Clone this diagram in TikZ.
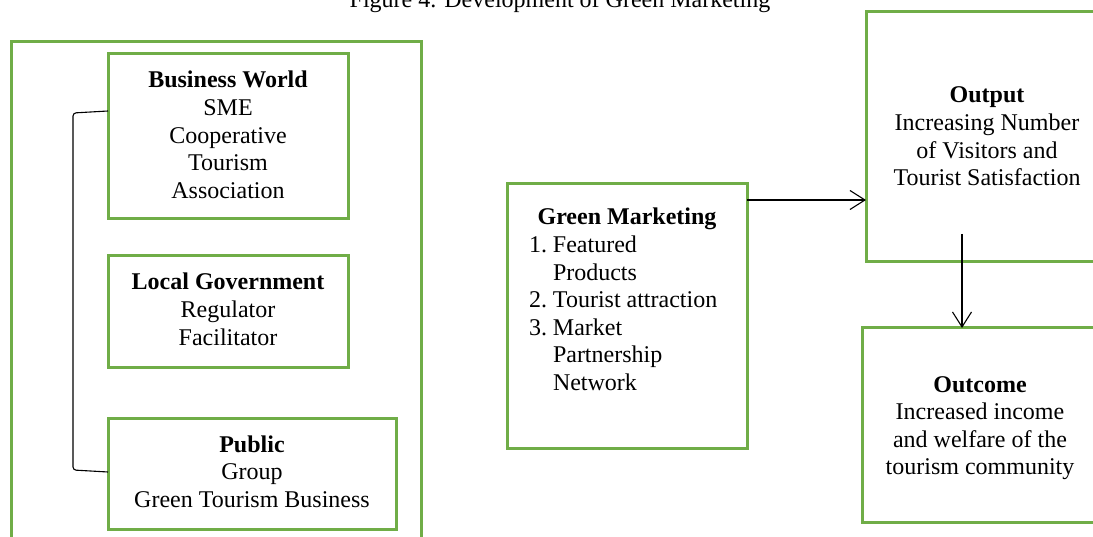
\documentclass[tikz,border=0pt]{standalone}
\usepackage{fontspec}
\setmainfont{Liberation Serif}
\usetikzlibrary{arrows.meta,calc}
\definecolor{boxgreen}{RGB}{112,173,71}
% first baseline of a box text, measured from the top edge of the box
\newcommand{\firstbase}[1]{\vspace*{\dimexpr #1-\ht\strutbox\relax}}
% fixed-size box contents: width, height, first baseline, text
\newcommand{\boxcontent}[4]{\parbox[c][#2][t]{#1}{\centering\firstbase{#3}\strut #4}}
\begin{document}
\begin{tikzpicture}[x=1pt,y=-1pt,
  every node/.style={font=\fontsize{24}{27.6}\selectfont},
  gbox/.style={draw=boxgreen, line width=3pt, inner sep=0pt, outer sep=0pt, anchor=north west},
  arr/.style={draw=black, line width=1.1pt, -{Straight Barb[length=15pt,width=19pt,line width=1.1pt]}},
  bracket/.style={draw=black, line width=1.1pt, rounded corners=3pt}]
\useasboundingbox (0,0) rectangle (1093,537);
\clip (0,0) rectangle (1093,537);

% caption
\node[anchor=base, inner sep=0pt] (title) at (560,8) {Figure 4. Development of Green Marketing};

% stakeholder group
\node[gbox] (outer) at (11,42) {\parbox[c][530pt][t]{410pt}{\mbox{}}};
\node[gbox] (bw) at (108,54) {\boxcontent{240pt}{165pt}{34pt}{\textbf{Business World}\\ SME\\ Cooperative\\ Tourism\\ Association}};
\node[gbox] (lg) at (108,256) {\boxcontent{240pt}{112pt}{34pt}{\textbf{Local Government}\\ Regulator\\ Facilitator}};
\node[gbox] (pub) at (108,418) {\boxcontent{288pt}{111pt}{34pt}{\textbf{Public}\\ Group\\ Green Tourism Business}};
\draw[bracket] (bw.west |- 0,111) -- (73,113) -- (73,470) -- (pub.west |- 0,472);

% green marketing
\node[gbox] (gm) at (507,184) {\parbox[c][264pt][t]{240pt}{\firstbase{41pt}%
  \makebox[240pt]{\strut\textbf{Green Marketing}}\\
  \hspace*{22pt}\makebox[24pt][l]{1.}Featured\\
  \hspace*{46pt}Products\\
  \hspace*{22pt}\makebox[24pt][l]{2.}Tourist attraction\\
  \hspace*{22pt}\makebox[24pt][l]{3.}Market\\
  \hspace*{46pt}Partnership\\
  \hspace*{46pt}Network}};

% results
\node[gbox] (out) at (866,12) {\boxcontent{242pt}{250pt}{91pt}{\textbf{Output}\\ Increasing Number\\ of Visitors and\\ Tourist Satisfaction}};
\node[gbox] (outc) at (862,328) {\boxcontent{236pt}{194pt}{64pt}{\textbf{Outcome}\\ Increased income\\ and welfare of the\\ tourism community}};

% connectors
\path ($(gm.north east)+(0,16)$) coordinate (ga);
\draw[arr] (ga) -- (ga -| out.west);
\coordinate (db) at (962,234);
\draw[arr] (db) -- (outc.north -| db);
\end{tikzpicture}
\end{document}
